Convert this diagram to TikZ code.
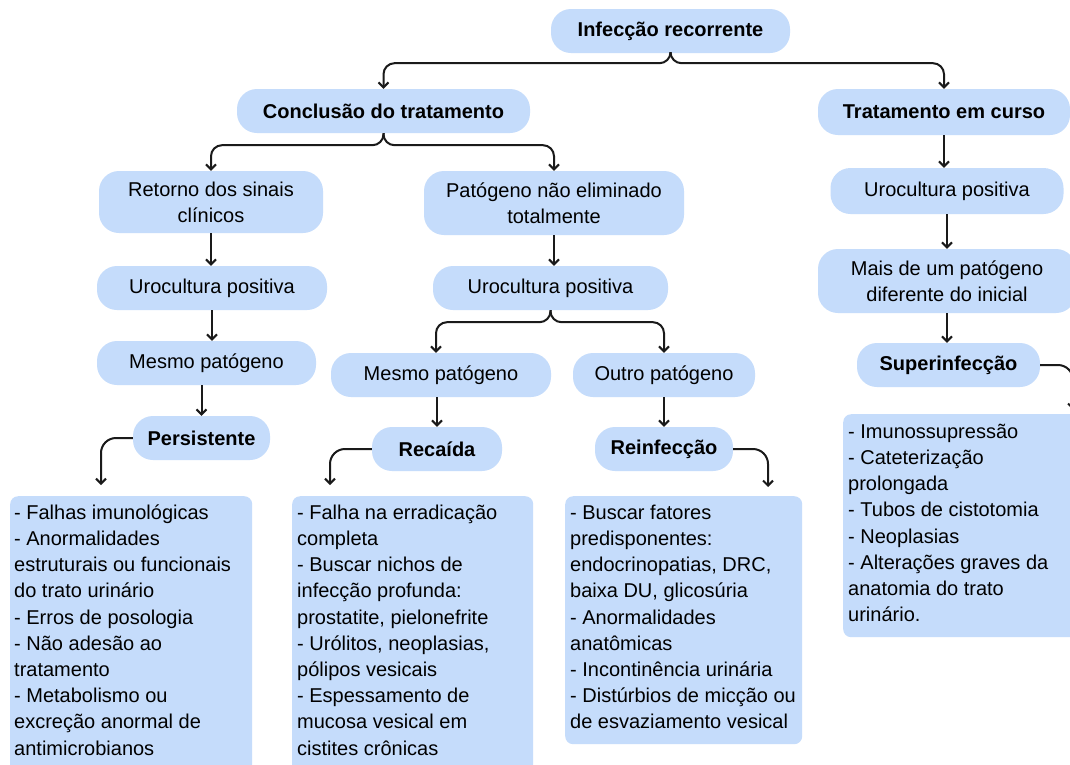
\documentclass[tikz,border=0pt]{standalone}
\usepackage{fontspec}
\setmainfont{Liberation Sans}
\usetikzlibrary{arrows.meta,calc}

\definecolor{boxblue}{RGB}{197,220,251}
\definecolor{linkcol}{RGB}{26,26,26}

\newcommand{\firstrow}{\rule{0pt}{15pt}}

\tikzset{
  pill/.style={fill=boxblue, rounded corners=20pt, inner sep=0pt, align=center,
               font=\fontsize{20}{26}\selectfont},
  headpill/.style={pill, font=\fontsize{20}{26}\selectfont\bfseries},
  card/.style={fill=boxblue, rounded corners=8pt, inner sep=0pt, anchor=north west},
  cardtext/.style={anchor=north west, align=left, inner sep=0pt,
                   font=\fontsize{20}{26.2}\selectfont},
  link/.style={draw=linkcol, line width=2pt, rounded corners=11pt,
               -{Straight Barb[length=5pt,width=10pt]}},
  sidelink/.style={link, rounded corners=15pt},
}

\begin{document}
\begin{tikzpicture}[x=1pt,y=-1pt]
\fill[white] (0,0) rectangle (1070,764);
\clip (0,0) rectangle (1070,764);

% top levels
\node[headpill, minimum width=239, minimum height=44] (root) at (670.5,31) {Infecção recorrente};
\node[headpill, minimum width=293, minimum height=44] (conc) at (383.5,111) {Conclusão do tratamento};
\node[headpill, minimum width=252, minimum height=46] (curso) at (944,112) {Tratamento em curso};

% left branch
\node[pill, minimum width=224, minimum height=62] (retorno) at (211,202) {Retorno dos sinais\\clínicos};
\node[pill, minimum width=230, minimum height=44] (urocA) at (212,288) {Urocultura positiva};
\node[pill, minimum width=219, minimum height=44] (mesmoA) at (206.5,363) {Mesmo patógeno};
\node[headpill, minimum width=137, minimum height=44] (persist) at (201.5,438) {Persistente};

% middle branch
\node[pill, minimum width=260, minimum height=64] (patog) at (554,203) {Patógeno não eliminado\\totalmente};
\node[pill, minimum width=235, minimum height=44] (urocB) at (550.5,288) {Urocultura positiva};
\node[pill, minimum width=220, minimum height=44] (mesmoB) at (441,375) {Mesmo patógeno};
\node[pill, minimum width=182, minimum height=44] (outro) at (664,375) {Outro patógeno};
\node[headpill, minimum width=130, minimum height=44] (recaida) at (437,449) {Recaída};
\node[headpill, minimum width=138, minimum height=44] (reinf) at (664,449) {Reinfecção};

% right branch
\node[pill, minimum width=233, minimum height=46] (urocC) at (947,191) {Urocultura positiva};
\node[pill, minimum width=258, minimum height=64] (mais) at (947,281) {Mais de um patógeno\\diferente do inicial};
\node[headpill, minimum width=183, minimum height=44] (superinf) at (948.5,365) {Superinfecção};

% detail cards
\node[card, minimum width=242, minimum height=320] (cardA) at (10,496) {};
\node[card, minimum width=241, minimum height=320] (cardB) at (292,496) {};
\node[card, minimum width=237, minimum height=248] (cardC) at (565,496) {};
\node[card, minimum width=240, minimum height=223] (cardD) at (843,414) {};

\node[cardtext] (txtA) at (14,504) {\firstrow- Falhas imunológicas\\- Anormalidades\\estruturais ou funcionais\\do trato urinário\\- Erros de posologia\\- Não adesão ao\\tratamento\\- Metabolismo ou\\excreção anormal de\\antimicrobianos};
\node[cardtext] (txtB) at (297,504) {\firstrow- Falha na erradicação\\completa\\- Buscar nichos de\\infecção profunda:\\prostatite, pielonefrite\\- Urólitos, neoplasias,\\pólipos vesicais\\- Espessamento de\\mucosa vesical em\\cistites crônicas};
\node[cardtext] (txtC) at (570,504) {\firstrow- Buscar fatores\\predisponentes:\\endocrinopatias, DRC,\\baixa DU, glicosúria\\- Anormalidades\\anatômicas\\- Incontinência urinária\\- Distúrbios de micção ou\\de esvaziamento vesical};
\node[cardtext] (txtD) at (848,423) {\firstrow- Imunossupressão\\- Cateterização\\prolongada\\- Tubos de cistotomia\\- Neoplasias\\- Alterações graves da\\anatomia do trato\\urinário.};

% free ends of the side connectors
\coordinate (endA) at (101,485);
\coordinate (endB) at (330,485);
\coordinate (endC) at (768,487);
\coordinate (endD) at (1073,410);

% split connectors
\draw[link] (root.south) -- ++(0,10) -| (conc.north);
\draw[link] (root.south) -- ++(0,10) -| (curso.north);
\draw[link] (conc.south) -- ++(0,12) -| (retorno.north);
\draw[link] (conc.south) -- ++(0,12) -| (patog.north);
\draw[link] (urocB.south) -- ++(0,12) -| ([xshift=-5pt]mesmoB.north);
\draw[link] (urocB.south) -- ++(0,12) -| (outro.north);

% straight connectors
\draw[link] (retorno.south) -- (retorno.south |- urocA.north);
\draw[link] (urocA.south) -- (urocA.south |- mesmoA.north);
\draw[link] (persist.north |- mesmoA.south) -- (persist.north);
\draw[link] (patog.south) -- (patog.south |- urocB.north);
\draw[link] (recaida.north |- mesmoB.south) -- (recaida.north);
\draw[link] (outro.south) -- (reinf.north);
\draw[link] (curso.south) -- (curso.south |- urocC.north);
\draw[link] (urocC.south) -- (urocC.south |- mais.north);
\draw[link] (mais.south) -- (mais.south |- superinf.north);

% bent connectors to the cards
\draw[sidelink] (persist.west) -| (endA);
\draw[sidelink] (recaida.west) -| (endB);
\draw[sidelink] (reinf.east) -| (endC);
\draw[sidelink] (superinf.east) -| (endD);
\end{tikzpicture}
\end{document}
